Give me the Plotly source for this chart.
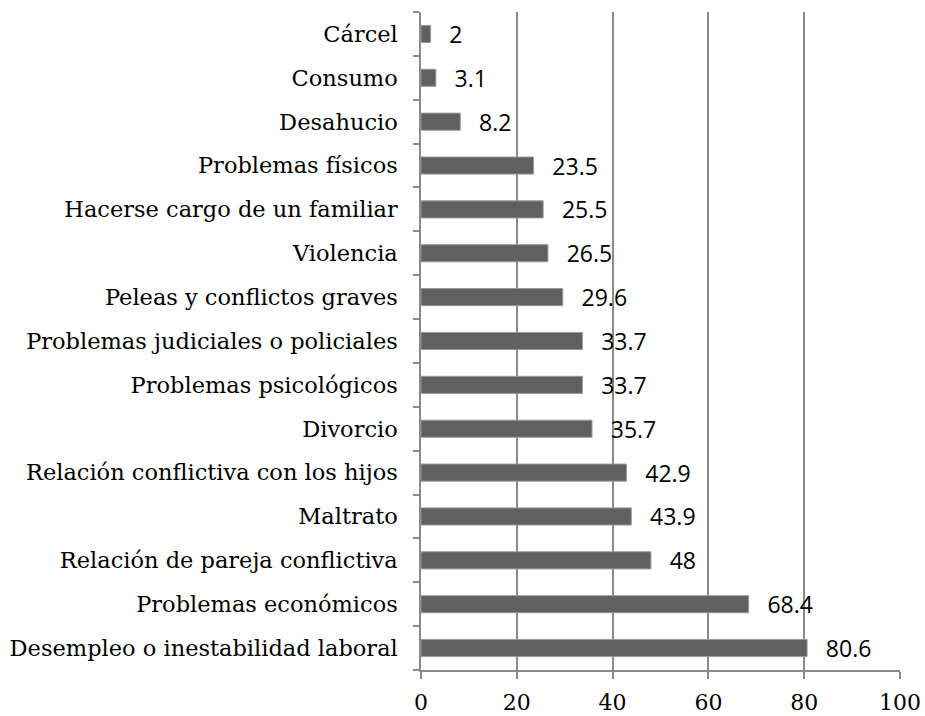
import plotly.graph_objects as go

categories = [
    "Desempleo o inestabilidad laboral",
    "Problemas económicos",
    "Relación de pareja conflictiva",
    "Maltrato",
    "Relación conflictiva con los hijos",
    "Divorcio",
    "Problemas psicológicos",
    "Problemas judiciales o policiales",
    "Peleas y conflictos graves",
    "Violencia",
    "Hacerse cargo de un familiar",
    "Problemas físicos",
    "Desahucio",
    "Consumo",
    "Cárcel",
]
values = [80.6, 68.4, 48, 43.9, 42.9, 35.7, 33.7, 33.7, 29.6, 26.5, 25.5, 23.5, 8.2, 3.1, 2]
x_ticks = [0, 20, 40, 60, 80, 100]

labels = ["  \u2009" + (str(v) if v != int(v) else str(int(v))) for v in values]

fig = go.Figure(go.Bar(
    x=values, y=categories, orientation="h",
    marker=dict(color="#606060", line=dict(color="#9a9a9a", width=1)),
    text=labels, textposition="outside", cliponaxis=False, constraintext="none",
    textfont=dict(family="Open Sans", size=23, color="#000000"),
    hoverinfo="skip",
))

fig.update_layout(
    width=925, height=716,
    margin=dict(l=421, r=25, t=12, b=46),
    paper_bgcolor="white", plot_bgcolor="white",
    bargap=0.61, showlegend=False,
    font=dict(family="DejaVu Serif", size=22, color="#000000"),
)
fig.update_xaxes(
    range=[0, 100], tickvals=x_ticks, showgrid=True, gridcolor="#8a8a8a", gridwidth=1.5,
    zeroline=False, showline=True, linecolor="#8a8a8a", linewidth=1.5,
    ticks="outside", ticklen=7, tickcolor="#8a8a8a", tickwidth=1.5,
    tickfont=dict(family="DejaVu Serif", size=22), automargin=False, ticklabelstandoff=5,
)
fig.update_yaxes(
    type="category", categoryorder="array", categoryarray=categories,
    range=[-0.5, 14.5], showgrid=False, showline=True, linecolor="#8a8a8a", linewidth=1.5,
    ticks="outside", tickson="boundaries", ticklen=6, tickcolor="#8a8a8a", tickwidth=1.5,
    tickfont=dict(family="DejaVu Serif", size=22.5), automargin=False, ticklabelstandoff=17,
)
fig.write_html("out.html", config={"displayModeBar": False},
               post_script="document.body.style.margin='0';")
